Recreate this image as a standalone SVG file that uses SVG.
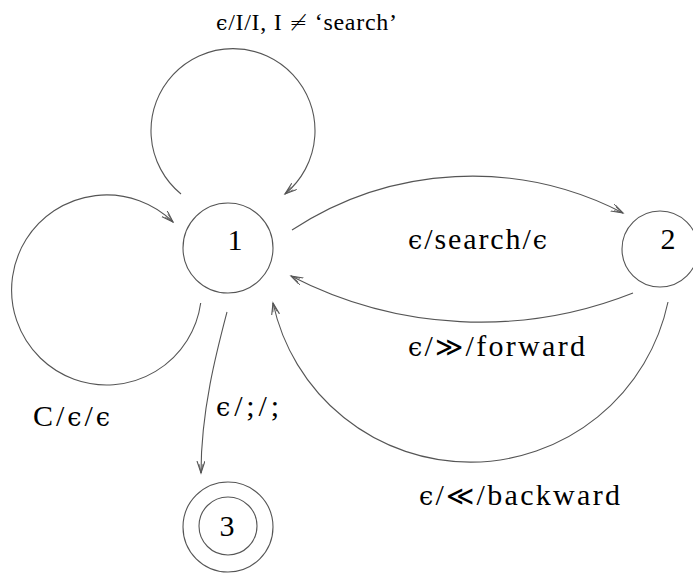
<svg xmlns="http://www.w3.org/2000/svg" width="693" height="574" viewBox="0 0 693 574">
  <style>
    .state { fill: none; stroke: #555; stroke-width: 1.1; }
    .edge { fill: none; stroke: #555; stroke-width: 1.1; marker-end: url(#arrow); }
    .lbl { font-family: "Liberation Serif", serif; font-size: 30px; fill: #000; }
    .small { font-size: 24px; }
    .num { text-anchor: middle; }
    .sym { font-family: "DejaVu Serif", serif; font-size: 0.85em; }
    .rel { font-family: "DejaVu Sans", sans-serif; font-weight: 200; font-size: 0.9em; }
  </style>
  <defs>
    <!-- thin open arrowhead -->
    <marker id="arrow" markerUnits="userSpaceOnUse" markerWidth="14" markerHeight="10" refX="12" refY="4" orient="auto">
      <path d="M0,0 L12,4 L0,8" fill="none" stroke="#555" stroke-width="1.1"/>
      <path d="M3,2 L12,4 L3,6" fill="none" stroke="#555" stroke-width="0.8"/>
    </marker>
  </defs>

  <rect width="693" height="574" fill="#fff"/>

  <!-- states -->
  <g id="state-1">
    <circle class="state" cx="228" cy="248" r="45"/>
    <text class="lbl num" x="235" y="250">1</text>
  </g>
  <g id="state-2">
    <circle class="state" cx="660" cy="249" r="38"/>
    <text class="lbl num" x="668" y="249">2</text>
  </g>
  <g id="state-3">
    <circle class="state" cx="228" cy="527" r="45"/>
    <circle class="state" cx="228" cy="526" r="29"/>
    <text class="lbl num" x="227" y="536">3</text>
  </g>

  <!-- transitions -->
  <g id="transitions">
    <!-- loop above state 1 -->
    <path class="edge" d="M181,194 A82,82 0 1 1 285,194"/>
    <!-- loop left of state 1 -->
    <path class="edge" d="M200.7,303 A95,95 0 1 1 173,222"/>
    <!-- 1 to 2 -->
    <path class="edge" d="M292,230 A328,328 0 0 1 623,213"/>
    <!-- 2 to 1, forward -->
    <path class="edge" d="M633,293 A413,413 0 0 1 291,276"/>
    <!-- 2 to 1, backward -->
    <path class="edge" d="M668,302 A202,202 0 0 1 273,303"/>
    <!-- 1 to 3 -->
    <path class="edge" d="M227,312 C217,350 201,410 201,473"/>
  </g>

  <!-- transition labels -->
  <g id="labels">
    <text class="lbl small" x="216" y="30" textLength="181"><tspan class="sym">ϵ</tspan>/I/I, I <tspan class="rel">≠</tspan> ‘search’</text>
    <text class="lbl" x="408" y="249" textLength="139"><tspan class="sym">ϵ</tspan>/search/<tspan class="sym">ϵ</tspan></text>
    <text class="lbl" x="408" y="356" textLength="177"><tspan class="sym">ϵ</tspan>/<tspan class="rel">≫</tspan>/forward</text>
    <text class="lbl" x="419" y="505" textLength="201"><tspan class="sym">ϵ</tspan>/<tspan class="rel">≪</tspan>/backward</text>
    <text class="lbl" x="33" y="426" textLength="77">C/<tspan class="sym">ϵ</tspan>/<tspan class="sym">ϵ</tspan></text>
    <text class="lbl" x="216" y="416" textLength="63"><tspan class="sym">ϵ</tspan>/;/;</text>
  </g>
</svg>
